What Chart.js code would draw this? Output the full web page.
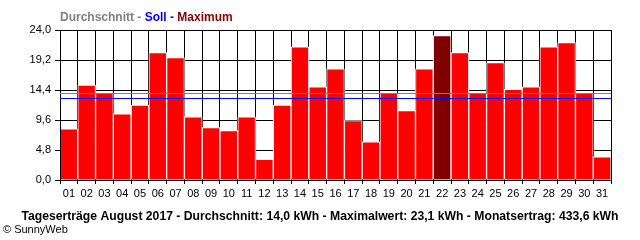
<!DOCTYPE html>
<html>
<head>
<meta charset="utf-8">
<script src="https://cdn.jsdelivr.net/npm/chart.js@4"></script>
<style>
html,body{margin:0;padding:0;background:#fff;}
#wrap{width:640px;height:240px;position:relative;}
</style>
</head>
<body>
<div id="wrap"><canvas id="c" width="640" height="240"></canvas></div>
<script>
const days = ['01','02','03','04','05','06','07','08','09','10','11','12','13','14','15','16','17','18','19','20','21','22','23','24','25','26','27','28','29','30','31'];
const dailyYield = [8.2, 15.2, 13.9, 10.6, 12.0, 20.4, 19.6, 10.1, 8.4, 7.9, 10.1, 3.3, 12.0, 21.3, 14.9, 17.8, 9.5, 6.1, 13.9, 11.1, 17.8, 23.1, 20.4, 13.9, 18.8, 14.5, 14.9, 21.3, 22.0, 13.9, 3.7];
const averageValue = 14.0;
const sollValue = 13.1;
const yTicks = [0, 4.8, 9.6, 14.4, 19.2, 24.0];
const headerParts = ['Durchschnitt - ', 'Soll - ', 'Maximum'];
const footerText = 'Tageserträge August 2017 - Durchschnitt: 14,0 kWh - Maximalwert: 23,1 kWh - Monatsertrag: 433,6 kWh';
const copyrightText = '© SunnyWeb';

const maxVal = Math.max(...dailyYield);
const barColors = dailyYield.map(v => v === maxVal ? '#800000' : '#ff0000');

const overlay = {
  id: 'overlay',
  afterDatasetsDraw(chart) {
    const ctx = chart.ctx, a = chart.chartArea, y = chart.scales.y;
    ctx.save();
    // left axis line (redraw over bar borders)
    ctx.strokeStyle = '#000'; ctx.lineWidth = 1;
    ctx.beginPath(); ctx.moveTo(Math.round(a.left) + 0.5, a.top); ctx.lineTo(Math.round(a.left) + 0.5, a.bottom); ctx.stroke();
    const ya = Math.round(y.getPixelForValue(averageValue)) + 0.5;
    ctx.strokeStyle = '#808080';
    ctx.beginPath(); ctx.moveTo(a.left, ya); ctx.lineTo(a.right, ya); ctx.stroke();
    const ys = Math.round(y.getPixelForValue(sollValue)) + 0.5;
    ctx.strokeStyle = '#0000ff';
    ctx.beginPath(); ctx.moveTo(a.left, ys); ctx.lineTo(a.right, ys); ctx.stroke();
    ctx.restore();
  },
  afterDraw(chart) {
    const ctx = chart.ctx;
    ctx.save();
    ctx.textBaseline = 'alphabetic';
    ctx.font = 'bold 12px "Liberation Sans", Arial, sans-serif';
    const cols = ['#808080', '#0000ff', '#800000'];
    let x = 60;
    headerParts.forEach((t, i) => {
      ctx.fillStyle = cols[i];
      ctx.fillText(t, x, 21);
      x += ctx.measureText(t).width;
    });
    ctx.fillStyle = '#000';
    let fs = 12;
    ctx.font = 'bold ' + fs + 'px "Liberation Sans", Arial, sans-serif';
    const w = ctx.measureText(footerText).width;
    fs = Math.min(12.5, fs * 597 / w);
    ctx.font = 'bold ' + fs.toFixed(2) + 'px "Liberation Sans", Arial, sans-serif';
    ctx.textAlign = 'center';
    ctx.fillText(footerText, 320, 220);
    ctx.textAlign = 'left';
    ctx.font = '11px "Liberation Sans", Arial, sans-serif';
    ctx.fillText(copyrightText, 3, 233);
    ctx.restore();
  }
};

new Chart(document.getElementById('c'), {
  type: 'bar',
  data: {
    labels: days,
    datasets: [{
      data: dailyYield,
      backgroundColor: barColors,
      borderColor: '#ffffff',
      borderWidth: 1,
      borderSkipped: 'bottom',
      barPercentage: 1,
      categoryPercentage: 1
    }]
  },
  options: {
    responsive: false,
    animation: false,
    devicePixelRatio: 1,
    layout: { padding: { left: 0, right: 29, top: 30, bottom: 35 } },
    plugins: { legend: { display: false }, tooltip: { enabled: false }, title: { display: false } },
    scales: {
      x: {
        grid: { color: '#000', lineWidth: 1, offset: true, tickLength: 4, drawTicks: true },
        border: { color: '#000', width: 1 },
        ticks: { color: '#000', font: { family: 'Liberation Sans', size: 11 }, autoSkip: false, maxRotation: 0, padding: 3 },
        afterFit(s) { s.height = 25; }
      },
      y: {
        min: 0, max: 24,
        grid: { color: '#000', lineWidth: 1, tickLength: 5, drawTicks: true },
        border: { color: '#000', width: 1 },
        ticks: {
          color: '#000', font: { family: 'Liberation Sans', size: 11 }, padding: 4,
          stepSize: 4.8,
          callback: (v) => {
            const t = yTicks.find(k => Math.abs(k - v) < 1e-6);
            return t === undefined ? '' : t.toFixed(1).replace('.', ',');
          }
        },
        afterBuildTicks(s) { s.ticks = yTicks.map(v => ({ value: v })); },
        afterFit(s) { s.width = 60; }
      }
    }
  },
  plugins: [overlay]
});
</script>
</body>
</html>
